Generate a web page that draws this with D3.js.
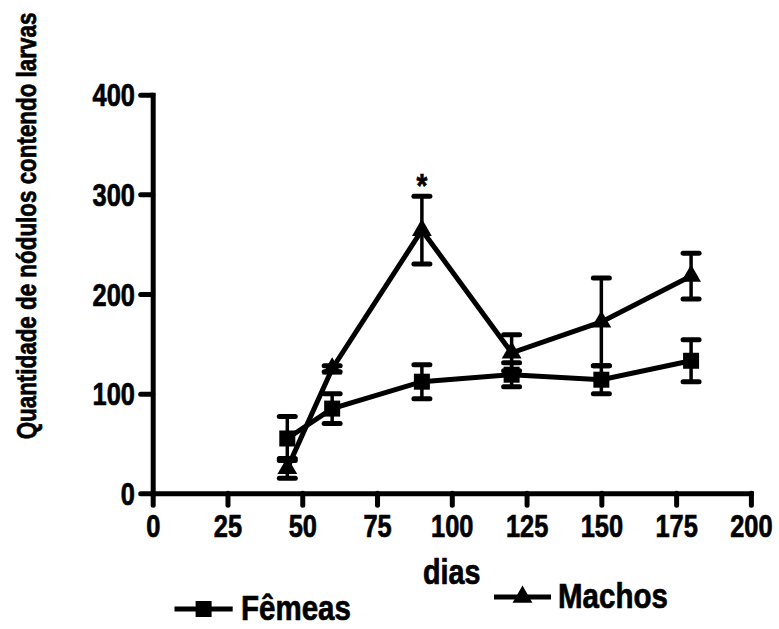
<!DOCTYPE html>
<meta charset="utf-8">
<style>
  body { margin: 0; background: #fff; }
  svg { display: block; }
  text { font-family: "Liberation Sans", Arial, sans-serif; font-weight: bold; fill: #000; stroke: #000; stroke-width: 0.7px; }
</style>
<body>
<div id="chart"></div>
<script src="https://cdnjs.cloudflare.com/ajax/libs/d3/7.8.5/d3.min.js"></script>
<script>
// data
const days = [45, 60, 90, 120, 150, 180];
const femeas = [55, 85, 112, 119, 114, 133];
const femeasErr = [22, 15, 17, 12, 14, 21];
const machos = [25, 125, 264, 141, 172, 218];
const machosErr = [10, 3, 34, 18, 44, 23];
const xTicks = [0, 25, 50, 75, 100, 125, 150, 175, 200];
const yTicks = [0, 100, 200, 300, 400];
const starDay = 90;
const starValue = 316;

const width = 779, height = 629;
const margin = { top: 94.7, right: 28.1, bottom: 135.7, left: 152.7 };
const narrow = 0.82; // the fonts in the picture are condensed

const svg = d3.select("#chart").append("svg")
  .attr("width", width)
  .attr("height", height);

const x = d3.scaleLinear().domain([0, 200]).range([margin.left, width - margin.right]);
const y = d3.scaleLinear().domain([0, 400]).range([height - margin.bottom, margin.top]);

// axes
const xAxis = svg.append("g")
  .attr("transform", `translate(0,${y(0)})`)
  .call(d3.axisBottom(x).tickValues(xTicks).tickSize(12).tickSizeOuter(0));
const yAxis = svg.append("g")
  .attr("transform", `translate(${x(0)},0)`)
  .call(d3.axisLeft(y).tickValues(yTicks).tickSize(12).tickSizeOuter(0));

[xAxis, yAxis].forEach(a => {
  a.select(".domain").attr("stroke", "#000").attr("stroke-width", 5).attr("stroke-linecap", "square");
  a.selectAll(".tick line").attr("stroke", "#000").attr("stroke-width", 5).attr("stroke-linecap", "round");
  a.selectAll(".tick text")
    .attr("font-family", null).attr("font-size", 31).style("font-weight", "bold");
});
xAxis.selectAll(".tick text").attr("y", 43.7).attr("dy", 0).attr("transform", `scale(${narrow},1)`);
yAxis.selectAll(".tick text").attr("x", -21.6).attr("dy", "0.36em").attr("transform", `scale(${narrow},1)`);

function label(txt, px, py, size, anchor, rot, sx) {
  svg.append("text")
    .attr("transform", `translate(${px},${py}) rotate(${rot || 0}) scale(${sx || narrow},1)`)
    .attr("text-anchor", anchor)
    .attr("font-size", size)
    .text(txt);
}

label("dias", x(100), 584, 35, "middle");
label("Quantidade de nódulos contendo larvas", 36, 226, 28, "middle", -90, 0.8);

// series
const series = [
  { name: "Fêmeas", vals: femeas, err: femeasErr, sym: d3.symbolSquare, size: 256 },
  { name: "Machos", vals: machos, err: machosErr, sym: d3.symbolTriangle, size: 170 }
];

const line = d3.line().x(d => x(d.day)).y(d => y(d.v));

series.forEach(s => {
  const pts = days.map((d, i) => ({ day: d, v: s.vals[i], e: s.err[i] }));
  const g = svg.append("g");

  const eb = g.selectAll(".err").data(pts).join("g");
  eb.append("line")
    .attr("x1", d => x(d.day)).attr("x2", d => x(d.day))
    .attr("y1", d => y(d.v + d.e)).attr("y2", d => y(d.v - d.e))
    .attr("stroke", "#000").attr("stroke-width", 3.5);
  [1, -1].forEach(sgn => {
    eb.append("line")
      .attr("x1", d => x(d.day) - 8).attr("x2", d => x(d.day) + 8)
      .attr("y1", d => y(d.v + sgn * d.e)).attr("y2", d => y(d.v + sgn * d.e))
      .attr("stroke", "#000").attr("stroke-width", 5).attr("stroke-linecap", "round");
  });

  g.append("path")
    .datum(pts)
    .attr("d", line)
    .attr("fill", "none")
    .attr("stroke", "#000")
    .attr("stroke-width", 5)
    .attr("stroke-linejoin", "miter");

  g.selectAll(".pt").data(pts).join("path")
    .attr("transform", d => `translate(${x(d.day)},${y(d.v)})`)
    .attr("d", d3.symbol().type(s.sym).size(s.size))
    .attr("fill", "#000");
});

// significance mark
label("*", x(starDay), y(starValue) + 19, 34, "middle");

// legend
const legend = [
  { s: series[0], x1: 174.5, x2: 232.7, ly: 609, tx: 241, ty: 620 },
  { s: series[1], x1: 494, x2: 551, ly: 597, tx: 558, ty: 608 }
];
legend.forEach(l => {
  svg.append("line")
    .attr("x1", l.x1).attr("x2", l.x2).attr("y1", l.ly).attr("y2", l.ly)
    .attr("stroke", "#000").attr("stroke-width", 5);
  svg.append("path")
    .attr("transform", `translate(${(l.x1 + l.x2) / 2},${l.ly})`)
    .attr("d", d3.symbol().type(l.s.sym).size(l.s.size))
    .attr("fill", "#000");
  label(l.s.name, l.tx, l.ty, 36, "start");
});
</script>
</body>
